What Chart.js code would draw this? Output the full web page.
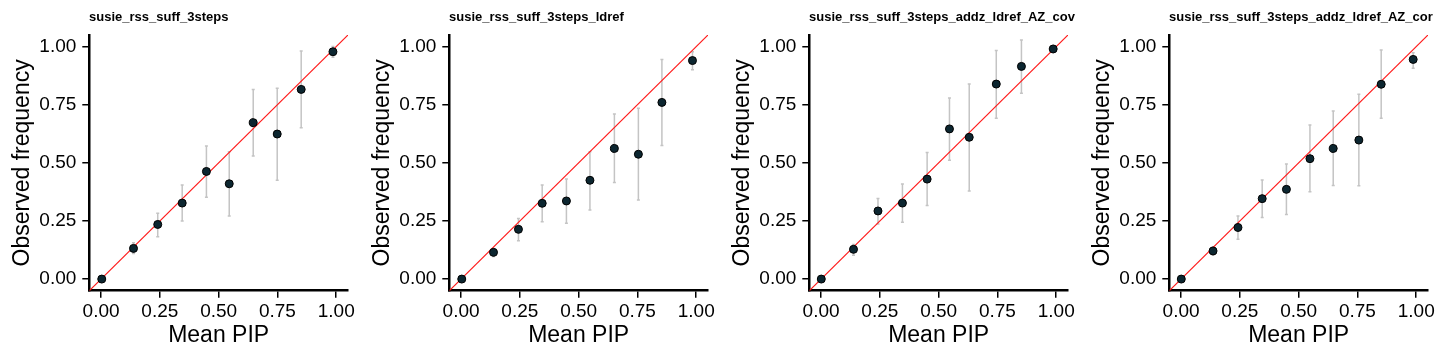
<!DOCTYPE html>
<html>
<head>
<meta charset="utf-8">
<script src="https://cdn.jsdelivr.net/npm/chart.js@4"></script>
<style>
  body { margin: 0; background: #fff; }
  .row { display: flex; width: 1440px; height: 360px; }
  .panel { position: relative; width: 360px; height: 360px; overflow: hidden; }
  .panel h4 {
    position: absolute; left: 89px; top: 9px; margin: 0;
    font: bold 13px "Liberation Sans", Arial, sans-serif;
    white-space: nowrap; color: #000;
  }
</style>
</head>
<body>
<div class="row" id="row"></div>
<script>
const titles = [
  'susie_rss_suff_3steps',
  'susie_rss_suff_3steps_ldref',
  'susie_rss_suff_3steps_addz_ldref_AZ_cov',
  'susie_rss_suff_3steps_addz_ldref_AZ_cor'
];
const tickValues = [0, 0.25, 0.5, 0.75, 1];

// mean PIP per bin (x)
const meanPip1 = [0.003, 0.138, 0.241, 0.345, 0.448, 0.545, 0.647, 0.749, 0.851, 0.986];
const meanPip2 = [0.003, 0.138, 0.244, 0.345, 0.448, 0.548, 0.652, 0.754, 0.854, 0.984];
const meanPip3 = [0.001, 0.138, 0.242, 0.346, 0.451, 0.546, 0.630, 0.745, 0.852, 0.987];
const meanPip4 = [0.001, 0.136, 0.242, 0.345, 0.448, 0.548, 0.647, 0.756, 0.851, 0.987];

// observed frequency (y)
const obsFreq1 = [0.000, 0.132, 0.235, 0.327, 0.463, 0.410, 0.673, 0.624, 0.816, 0.978];
const obsFreq2 = [0.000, 0.115, 0.214, 0.326, 0.336, 0.425, 0.562, 0.537, 0.760, 0.940];
const obsFreq3 = [0.000, 0.128, 0.293, 0.327, 0.430, 0.646, 0.610, 0.839, 0.915, 0.990];
const obsFreq4 = [0.000, 0.121, 0.222, 0.346, 0.386, 0.518, 0.562, 0.598, 0.838, 0.945];

// error bar limits
const lower1 = [0.000, 0.110, 0.182, 0.250, 0.352, 0.271, 0.529, 0.425, 0.651, 0.954];
const upper1 = [0.004, 0.156, 0.283, 0.405, 0.572, 0.548, 0.816, 0.821, 0.981, 1.000];
const lower2 = [0.000, 0.097, 0.165, 0.247, 0.240, 0.297, 0.415, 0.340, 0.575, 0.900];
const upper2 = [0.004, 0.132, 0.261, 0.405, 0.430, 0.548, 0.710, 0.735, 0.945, 0.978];
const lower3 = [0.000, 0.103, 0.237, 0.244, 0.316, 0.511, 0.379, 0.692, 0.799, 0.975];
const upper3 = [0.004, 0.149, 0.347, 0.409, 0.545, 0.779, 0.839, 0.983, 1.029, 1.000];
const lower4 = [0.000, 0.103, 0.171, 0.265, 0.278, 0.376, 0.403, 0.402, 0.692, 0.907];
const upper4 = [0.004, 0.139, 0.271, 0.426, 0.495, 0.663, 0.723, 0.795, 0.986, 0.974];

const panels = [
  [meanPip1, obsFreq1, lower1, upper1],
  [meanPip2, obsFreq2, lower2, upper2],
  [meanPip3, obsFreq3, lower3, upper3],
  [meanPip4, obsFreq4, lower4, upper4]
];

const font = '"Liberation Sans", Arial, sans-serif';

// gray error bars with small caps, drawn under the points
const errorBars = {
  id: 'errorBars',
  beforeDatasetsDraw(chart, args, opts) {
    const {ctx, scales: {x, y}} = chart;
    ctx.save();
    ctx.strokeStyle = '#c4c4c4';
    ctx.lineWidth = 1.5;
    opts.xs.forEach((v, i) => {
      const px = x.getPixelForValue(v);
      const lo = y.getPixelForValue(opts.lo[i]);
      const hi = y.getPixelForValue(opts.hi[i]);
      ctx.beginPath();
      ctx.moveTo(px, lo); ctx.lineTo(px, hi);
      ctx.moveTo(px - 1.5, lo); ctx.lineTo(px + 1.5, lo);
      ctx.moveTo(px - 1.5, hi); ctx.lineTo(px + 1.5, hi);
      ctx.stroke();
    });
    ctx.restore();
  }
};

function axis(titleText, isX) {
  return {
    type: 'linear',
    min: -0.05,
    max: 1.05,
    afterBuildTicks: s => { s.ticks = tickValues.map(v => ({value: v})); },
    afterFit: s => {
      if (isX) s.height = 69.3; else s.width = 89.3;
    },
    border: {display: true, color: '#000', width: 2.5},
    grid: {drawOnChartArea: false, drawTicks: true, tickLength: 7, color: '#000', lineWidth: 1.5},
    ticks: {
      color: '#000',
      padding: isX ? 3 : 6,
      maxRotation: 0,
      font: {family: font, size: 19},
      callback: v => Number(v).toFixed(2)
    },
    title: {
      display: true,
      text: titleText,
      color: '#000',
      font: {family: font, size: 23},
      padding: isX ? {top: 0, bottom: 11} : {top: 8.5, bottom: 0}
    }
  };
}

const row = document.getElementById('row');
panels.forEach(([xs, ys, lo, hi], k) => {
  const div = document.createElement('div');
  div.className = 'panel';
  const h = document.createElement('h4');
  h.textContent = titles[k];
  const canvas = document.createElement('canvas');
  canvas.width = 360;
  canvas.height = 360;
  div.appendChild(canvas);
  div.appendChild(h);
  row.appendChild(div);

  new Chart(canvas, {
    type: 'scatter',
    data: {
      datasets: [
        {
          data: xs.map((v, i) => ({x: v, y: ys[i]})),
          backgroundColor: '#0c2630',
          borderColor: '#000',
          borderWidth: 1,
          pointRadius: 4,
          order: 0
        },
        {
          // y = x reference line
          data: [{x: -0.05, y: -0.05}, {x: 1.05, y: 1.05}],
          showLine: true,
          borderColor: '#ff1a1a',
          backgroundColor: '#ff1a1a',
          borderWidth: 1.2,
          pointRadius: 0,
          order: 1
        }
      ]
    },
    options: {
      responsive: false,
      animation: false,
      layout: {padding: {top: 35, right: 12, left: 0, bottom: 0}},
      scales: {
        x: axis('Mean PIP', true),
        y: axis('Observed frequency', false)
      },
      plugins: {
        legend: {display: false},
        tooltip: {enabled: false},
        errorBars: {xs: xs, lo: lo, hi: hi}
      }
    },
    plugins: [errorBars]
  });
});
</script>
</body>
</html>
